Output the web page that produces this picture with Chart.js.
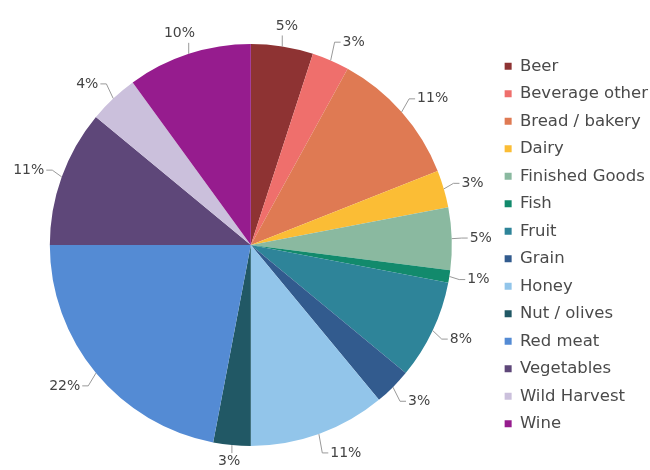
<!DOCTYPE html>
<html>
<head>
<meta charset="utf-8">
<script src="https://cdn.jsdelivr.net/npm/chart.js@4"></script>
<style>
    body { margin: 0; background: #fff; overflow: hidden; }
</style>
</head>
<body>
<canvas id="graficoPie" width="650" height="470"></canvas>
<script>

const categorias = [
    'Beer', 'Beverage other', 'Bread / bakery', 'Dairy', 'Finished Goods',
    'Fish', 'Fruit', 'Grain', 'Honey', 'Nut / olives',
    'Red meat', 'Vegetables', 'Wild Harvest', 'Wine'
];

const valores = [5, 3, 11, 3, 5, 1, 8, 3, 11, 3, 22, 11, 4, 10];

const colores = [
    '#8e3333', '#ef6f6c', '#df7a53', '#fbbd35', '#8ab9a0',
    '#128a6c', '#2e8499', '#325b8e', '#92c5ea', '#215865',
    '#548bd4', '#5e4779', '#cbc0dc', '#961c8e'
];

const fuente = 'DejaVu Sans';

// etiquetas de porcentaje fuera del pie con su linea guia
const etiquetasFuera = {
    id: 'etiquetasFuera',
    afterDatasetsDraw(chart) {
        const ctx = chart.ctx;
        const meta = chart.getDatasetMeta(0);
        const total = valores.reduce((a, b) => a + b, 0);

        ctx.save();
        ctx.font = '14px "' + fuente + '"';
        ctx.fillStyle = '#444';
        ctx.strokeStyle = '#999';
        ctx.lineWidth = 1;

        meta.data.forEach(function(arc, i){
            const p = arc.getProps(['x', 'y', 'startAngle', 'endAngle', 'outerRadius'], true);
            const a = (p.startAngle + p.endAngle) / 2;
            const cos = Math.cos(a), sin = Math.sin(a);
            const texto = Math.round(valores[i] / total * 100) + '%';

            const x0 = p.x + cos * p.outerRadius;
            const y0 = p.y + sin * p.outerRadius;

            ctx.beginPath();
            ctx.moveTo(x0, y0);

            if (Math.abs(cos) > 0.32) {
                const x1 = x0 + cos * 10;
                const y1 = y0 + sin * 20;
                const lado = cos > 0 ? 1 : -1;
                const x2 = x1 + lado * 6;
                ctx.lineTo(x1, y1);
                ctx.lineTo(x2, y1);
                ctx.stroke();
                ctx.textAlign = lado > 0 ? 'left' : 'right';
                ctx.textBaseline = 'middle';
                ctx.fillText(texto, x2 + lado * 2, y1);
            } else {
                // arriba o abajo: linea vertical y texto centrado
                const arriba = sin < 0;
                const y1 = y0 + (arriba ? -11 : 8);
                ctx.lineTo(x0, y1);
                ctx.stroke();
                ctx.textAlign = 'center';
                ctx.textBaseline = arriba ? 'bottom' : 'top';
                ctx.fillText(texto, x0 + cos * 30, y1 + (arriba ? -2 : 1));
            }
        });

        ctx.restore();
    }
};

new Chart(document.getElementById('graficoPie'), {
    type: 'pie',
    plugins: [etiquetasFuera],
    data: {
        labels: categorias,
        datasets: [{
            data: valores,
            backgroundColor: colores,
            borderWidth: 0
        }]
    },
    options: {
        responsive: false,
        animation: false,
        layout: {
            padding: { top: 44, bottom: 24, left: 8, right: -8 }
        },
        plugins: {
            legend: {
                position: 'right',
                labels: {
                    boxWidth: 7,
                    boxHeight: 7,
                    padding: 11,
                    color: '#4a4a4a',
                    font: { family: fuente, size: 16.5 }
                }
            },
            tooltip: { enabled: false }
        }
    }
});
</script>
</body>
</html>
